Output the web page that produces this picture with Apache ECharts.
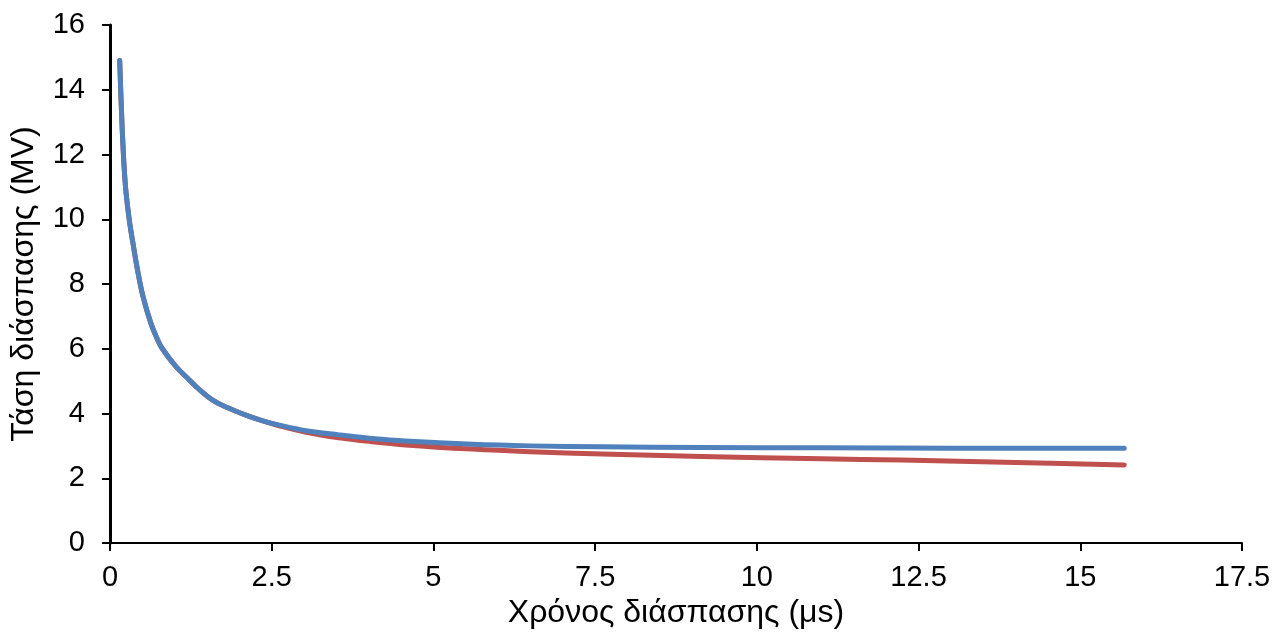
<!DOCTYPE html>
<html>
<head>
<meta charset="utf-8">
<script src="https://cdn.jsdelivr.net/npm/echarts@6/dist/echarts.min.js"></script>
<style>
  html, body { margin: 0; padding: 0; background: #fff; }
  #chart { width: 1284px; height: 637px; }
</style>
</head>
<body>
<div id="chart"></div>
<script>
// Breakdown voltage (MV) against time to breakdown (μs)
const timeBlue = [0.15, 0.17, 0.2, 0.24, 0.30, 0.36, 0.424, 0.512, 0.63, 0.72, 0.81, 1.02, 1.23, 1.33, 1.58, 1.84, 2.1, 2.35, 2.6, 3.03, 3.54, 4.05, 4.57, 5.6, 6.5, 7.6, 9.15, 11, 13, 15.68];
const voltBlue = [14.9, 13.75, 12.3, 11.0, 9.95, 9.2, 8.45, 7.6, 6.8, 6.35, 6.0, 5.45, 5.03, 4.83, 4.42, 4.16, 3.95, 3.78, 3.65, 3.47, 3.34, 3.23, 3.15, 3.05, 3.0, 2.97, 2.95, 2.94, 2.93, 2.93];

const timeRed = [0.15, 0.17, 0.2, 0.24, 0.30, 0.36, 0.424, 0.512, 0.63, 0.72, 0.81, 1.02, 1.23, 1.33, 1.58, 1.84, 2.1, 2.35, 2.6, 3.03, 3.54, 4.05, 4.57, 5.6, 6.5, 7.6, 9.15, 11, 12.24, 14, 15.68];
const voltRed = [14.9, 13.75, 12.3, 11.0, 9.95, 9.2, 8.45, 7.6, 6.8, 6.35, 6.0, 5.45, 5.03, 4.83, 4.42, 4.16, 3.95, 3.78, 3.63, 3.42, 3.25, 3.13, 3.03, 2.90, 2.82, 2.75, 2.67, 2.60, 2.56, 2.49, 2.41];

const xTitle = 'Χρόνος διάσπασης (μs)';
const yTitle = 'Τάση διάσπασης (MV)';

const pairs = (xs, ys) => xs.map((x, i) => [x, ys[i]]);

const font = 'Liberation Sans, Arial, sans-serif';
const chart = echarts.init(document.getElementById('chart'), null, { renderer: 'canvas' });

chart.setOption({
  animation: false,
  backgroundColor: '#ffffff',
  grid: { left: 107, right: 42, top: 25, bottom: 94, containLabel: false },
  xAxis: {
    type: 'value',
    min: 0, max: 17.5, interval: 2.5,
    name: xTitle,
    nameLocation: 'middle',
    nameGap: 54,
    nameTextStyle: { color: '#000', fontSize: 32, fontFamily: font },
    axisLine: { show: true, onZero: false, lineStyle: { color: '#000', width: 2 } },
    axisTick: { show: true, inside: false, length: 8, lineStyle: { color: '#000', width: 2 } },
    axisLabel: { color: '#000', fontSize: 29, fontFamily: font, margin: 20 },
    splitLine: { show: false }
  },
  yAxis: {
    type: 'value',
    min: 0, max: 16, interval: 2,
    name: yTitle,
    nameLocation: 'middle',
    nameRotate: 90,
    nameGap: 70,
    nameTextStyle: { color: '#000', fontSize: 32, fontFamily: font },
    axisLine: { show: true, onZero: false, lineStyle: { color: '#000', width: 3 } },
    axisTick: { show: true, inside: false, length: 8, lineStyle: { color: '#000', width: 2 } },
    axisLabel: { color: '#000', fontSize: 29, fontFamily: font, margin: 25 },
    splitLine: { show: false }
  },
  series: [
    {
      type: 'line',
      data: pairs(timeRed, voltRed),
      showSymbol: false,
      smooth: 0.4,
      lineStyle: { color: '#C0504D', width: 5, cap: 'round', join: 'round' },
      z: 2
    },
    {
      type: 'line',
      data: pairs(timeBlue, voltBlue),
      showSymbol: false,
      smooth: 0.4,
      lineStyle: { color: '#4F81BD', width: 5, cap: 'round', join: 'round' },
      z: 3
    }
  ]
});
</script>
</body>
</html>
